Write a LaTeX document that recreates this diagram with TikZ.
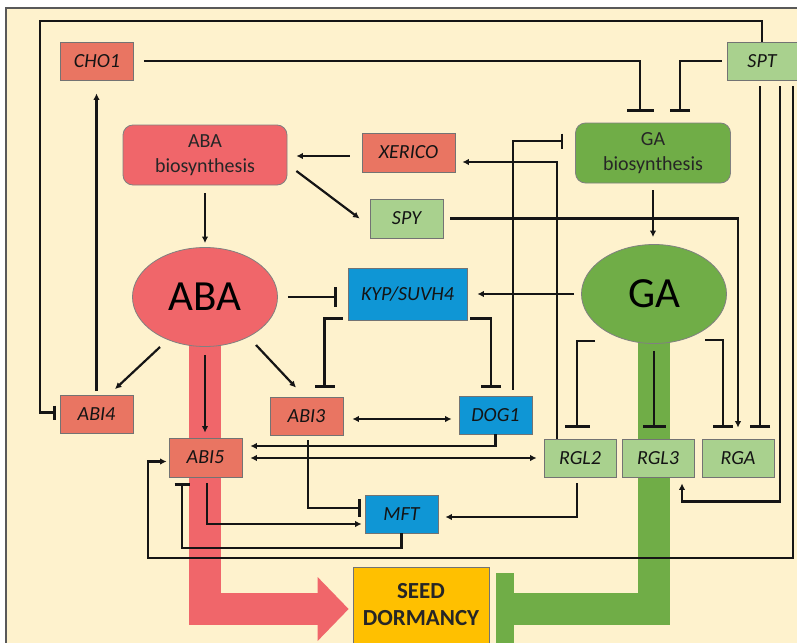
\documentclass[tikz,border=0pt]{standalone}
\usepackage{fontspec}
\setmainfont{Carlito}
\usetikzlibrary{arrows.meta,calc,shapes.geometric}
\definecolor{cream}{HTML}{FEF2CD}
\definecolor{salmon}{HTML}{E97562}
\definecolor{abared}{HTML}{F0666A}
\definecolor{gagreen}{HTML}{70AD47}
\definecolor{ltgreen}{HTML}{A9D18E}
\definecolor{kblue}{HTML}{0F96D5}
\definecolor{seedy}{HTML}{FFC000}
\definecolor{ink}{HTML}{151515}
\pgfdeclarelayer{bg}
\pgfdeclarelayer{band}
\pgfsetlayers{bg,band,main}
\begin{document}
\begin{tikzpicture}[x=1pt,y=-1pt,
 box/.style={draw=black!55, line width=0.8pt, inner sep=0pt, minimum height=38pt, minimum width=73pt, text=black!92, font=\fontsize{20}{24}\selectfont\itshape},
 salbox/.style={box, fill=salmon},
 grbox/.style={box, fill=ltgreen},
 blbox/.style={box, fill=kblue},
 bios/.style={draw=black!50, line width=0.8pt, rounded corners=10pt, minimum height=60pt, align=center, text=black!85, font=\fontsize{20}{25}\selectfont, inner sep=0pt},
 horm/.style={ellipse, draw=black!50, line width=0.8pt, minimum width=145pt, minimum height=99pt, inner sep=0pt, font=\fontsize{43}{50}\selectfont},
 conn/.style={draw=ink, line width=2.2pt},
 act/.style={conn, -{Latex[length=6.5pt,width=6.5pt]}},
 inh/.style={conn, -{Bar[width=20pt]}},
 actboth/.style={conn, {Latex[length=6.5pt,width=6.5pt]}-{Latex[length=6.5pt,width=6.5pt]}},
 band/.style={line width=32pt, line join=miter}
]
\useasboundingbox (0,0) rectangle (797,642);
\begin{pgfonlayer}{bg}
\fill[white] (0,0) rectangle (797,642);
\filldraw[fill=cream, draw=black!65, line width=1.5pt] (6,8) rectangle (805,650);
\end{pgfonlayer}

% nodes
\node[salbox] (CHO1) at (97,61) {CHO1};
\node[grbox, minimum width=70pt] (SPT) at (762,61) {SPT};
\node[bios, fill=abared, minimum width=164pt] (ABAb) at (205,155) {ABA\\biosynthesis};
\node[bios, fill=gagreen, minimum width=155pt] (GAb) at (653,153) {GA\\biosynthesis};
\node[salbox, minimum width=93pt, minimum height=39pt] (XERICO) at (408.5,152.5) {XERICO};
\node[grbox, minimum height=39pt] (SPY) at (406.5,218.5) {SPY};
\node[horm, fill=abared] (ABA) at (205,297) {ABA};
\node[horm, fill=gagreen] (GA) at (654,294) {GA};
\node[blbox, minimum width=119pt, minimum height=52pt] (KYP) at (407.5,294) {KYP/SUVH4};
\node[salbox] (ABI4) at (96.5,414.5) {ABI4};
\node[salbox] (ABI3) at (306.5,416) {ABI3};
\node[blbox] (DOG1) at (495.5,415) {DOG1};
\node[salbox, minimum height=39pt] (ABI5) at (205.5,457.5) {ABI5};
\node[grbox, minimum width=72pt] (RGL2) at (580,458) {RGL2};
\node[grbox, minimum width=72pt] (RGL3) at (658,458) {RGL3};
\node[grbox, minimum width=72pt] (RGA) at (738,458) {RGA};
\node[blbox] (MFT) at (401.5,514) {MFT};
\node[draw=black!55, line width=0.8pt, fill=seedy, minimum width=136pt, minimum height=76pt, inner sep=0pt, align=center, text=black!85, font=\fontsize{23}{27}\selectfont\bfseries] (seed) at (421,605) {SEED\\DORMANCY};

% thick bands
\begin{pgfonlayer}{band}
\draw[band, abared, -{Triangle[length=31pt,width=64pt,line width=0pt]}] (ABA.center) |- ($(seed.west)+(-4,4)$);
\coordinate (gb) at ($(seed.east)+(16,4)$);
\draw[band, gagreen] (GA.center) |- (gb);
\draw[gagreen, line width=18pt] ($(gb)+(0,-36)$) -- ($(gb)+(0,40)$);
\end{pgfonlayer}

% connectors
\draw[inh, -{Bar[width=14pt]}] (SPT.north) |- (40,21) |- ($(ABI4.west)+(-4,-2)$);
\draw[inh, -{Bar[width=27pt]}] ($(CHO1.east)+(10,0)$) -| ($(GAb.north)+(-13,-11)$);
\draw[inh] ($(SPT.west)+(-5,0)$) -| ($(GAb.north)+(27,-11)$);
\draw[act] ($(XERICO.west |- 0,156)+(-12,0)$) -- ($(ABAb.east |- 0,156)+(9,0)$);
\draw[act] ($(ABAb.east)+(9,16)$) -- ($(SPY.west)+(-10,0)$);
\draw[act] ($(ABAb.south)+(0,8)$) -- ($(ABA.north)+(0,-4)$);
\draw[act] ($(GAb.south)+(0,7)$) -- ($(GAb.south |- GA.north)+(0,-7)$);
\draw[act] ($(ABI4.north)+(0,-4)$) -- ($(ABI4.north |- CHO1.south)+(0,13)$);
\draw[act] ($(ABA.center)+(-45,50)$) -- ($(ABI4.north)+(18.5,-6)$);
\draw[act] ($(ABA.center)+(51,48)$) -- ($(ABI3.north)+(-10.5,-9)$);
\draw[act] ($(ABA.south)+(0,8)$) -- ($(ABA.south |- ABI5.north)+(0,-5)$);
\draw[inh] ($(ABA.east)+(10,0)$) -- ($(ABA.east -| KYP.west)+(-11,0)$);
\draw[act] ($(GA.west)+(-7,0)$) -- ($(GA.west -| KYP.east)+(10,0)$);
\draw[inh] ($(KYP.south west)+(-5,-2)$) -| ($(ABI3.north)+(18,-9)$);
\draw[inh] ($(KYP.south east)+(3,-2)$) -| ($(DOG1.north)+(-4.5,-8)$);
\draw[inh, -{Bar[width=15pt]}] ($(DOG1.north)+(17.5,-6)$) |- ($(GAb.west)+(-12,-12)$);
\draw[act] ($(RGL2.north)+(-23,0)$) |- ($(XERICO.east)+(7,9.5)$);
\draw[act] ($(SPY.east)+(7,0)$) -| ($(RGA.north)+(0,-11)$);
\draw[inh, -{Bar[width=25pt]}] ($(GA.south)+(-59,-3)$) -| ($(RGL2.north)+(-3,-11)$);
\draw[inh, -{Bar[width=23pt]}] ($(GA.south)+(0,7)$) -- ($(GA.south |- RGL3.north)+(0,-11)$);
\draw[inh] ($(GA.south)+(51,-4)$) -| ($(RGA.north)+(-15,-11)$);
\draw[inh] ($(SPT.south)+(-2,6)$) -- ($(SPT.south |- RGA.north)+(-2,-11)$);
\draw[act] ($(SPT.south)+(18,6)$) |- ($(RGL3.south)+(24,24)$) -- ($(RGL3.south)+(24,6)$);
\draw[act] ($(SPT.south)+(31,6)$) |- (148,558) |- ($(ABI5.west)+(-2,4)$);
\draw[inh, -{Bar[width=15pt]}] (MFT.south) |- (182,548) -- ($(ABI5.south)+(-23.5,6)$);
\draw[act] ($(ABI5.south)+(1.5,6)$) |- ($(MFT.west)+(-3,10)$);
\draw[inh, -{Bar[width=18pt]}] ($(ABI3.south)+(1.5,5)$) |- ($(MFT.west)+(-4,-6)$);
\draw[act] ($(RGL2.south)+(-3,6)$) |- ($(MFT.east)+(7,3)$);
\draw[actboth] ($(ABI3.east)+(9,3)$) -- ($(DOG1.west)+(-7,4)$);
\draw[act] (DOG1.south) |- ($(ABI5.east)+(8,-11.5)$);
\draw[actboth] ($(ABI5.east)+(8,0.5)$) -- ($(RGL2.west)+(-7,0)$);
\end{tikzpicture}
\end{document}
